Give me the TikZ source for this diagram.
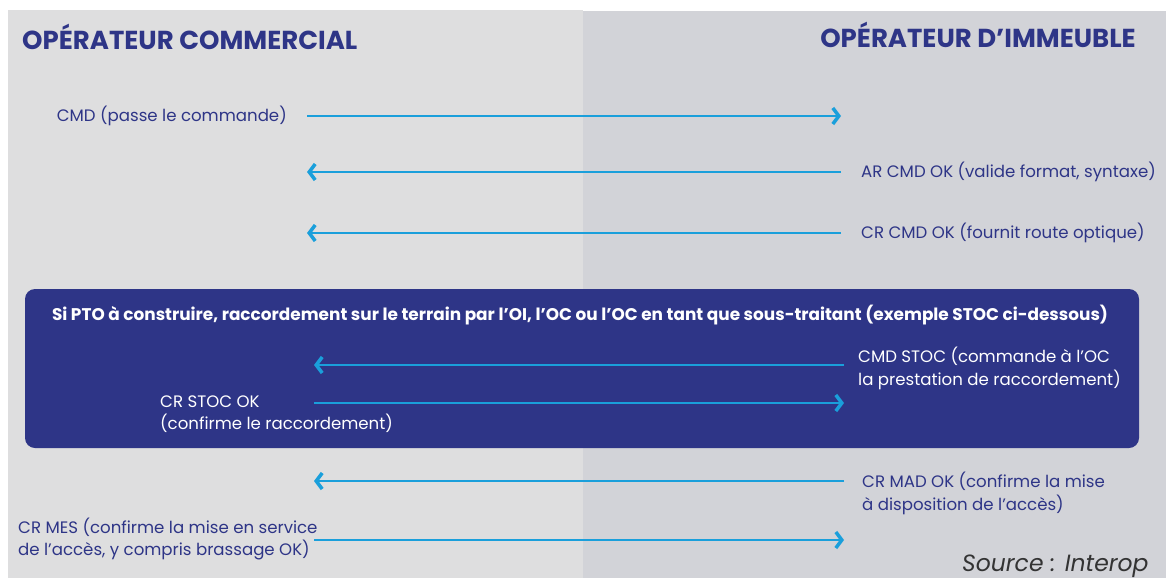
\documentclass[tikz,border=0pt]{standalone}
\usepackage{fontspec}
\setmainfont{Poppins}
\usetikzlibrary{positioning}
\usetikzlibrary{arrows.meta}

\definecolor{ocgrey}{HTML}{DEDEDF}
\definecolor{oigrey}{HTML}{D2D3D8}
\definecolor{navy}{HTML}{2E3587}
\definecolor{flowblue}{HTML}{1A9FDB}

\begin{document}
\begin{tikzpicture}[x=1pt, y=-1pt,
	flow/.style={draw=flowblue, line width=1.4pt, -{Straight Barb[length=6pt,width=16pt,line width=3.5pt]}},
	lbl/.style={text=navy, font=\fontsize{16.6}{22.5}\selectfont, inner sep=0pt, align=left},
	head/.style={text=navy, font=\bfseries\fontsize{26}{30}\selectfont, inner sep=0pt}]

	\useasboundingbox (0,0) rectangle (1166,578);
	% Panels %
	\fill [ocgrey] (8,10) rectangle (583,578);
	\fill [oigrey] (583,11) rectangle (1166,578);
	% Titles %
	\node [head, anchor=west] (ocTitle) at (22,37) {OPÉRATEUR COMMERCIAL};
	\node [head, anchor=east] (oiTitle) at (1136,35) {OPÉRATEUR D'IMMEUBLE};
	% End points %
	\foreach \n/\y in {1/116, 2/172, 3/233} {
		\coordinate (oc\n) at (307,\y);
		\coordinate (oi\n) at (841,\y);
	}
	\foreach \n/\y in {4/365, 5/403, 6/481, 7/540} {
		\coordinate (oc\n) at (314,\y);
		\coordinate (oi\n) at (844,\y);
	}
	% STOC box %
	\node [fill=navy, rounded corners=10pt, minimum width=1114pt, minimum height=159pt, inner sep=0pt] (stoc) at (582,368.5) {};
	\node [text=white, font=\bfseries\fontsize{16.9}{20}\selectfont, inner sep=0pt] (stocTitle) at (580,315) {Si PTO à construire, raccordement sur le terrain par l'OI, l'OC ou l'OC en tant que sous-traitant (exemple STOC ci-dessous)};
	% Flows %
	\draw [flow] (oc1) -- (oi1);
	\draw [flow] (oi2) -- (oc2);
	\draw [flow] (oi3) -- (oc3);
	\draw [flow] (oi4) -- (oc4);
	\draw [flow] (oc5) -- (oi5);
	\draw [flow] (oi6) -- (oc6);
	\draw [flow] (oc7) -- (oi7);
	% Labels %
	\node [lbl, left=20pt of oc1] (cmd) {CMD (passe le commande)};
	\node [lbl, right=20pt of oi2] (arCmd) {AR CMD OK (valide format, syntaxe)};
	\node [lbl, right=20pt of oi3] (crCmd) {CR CMD OK (fournit route optique)};
	\node [lbl, text=white, anchor=west] (cmdStoc) at (858,368.5) {CMD STOC (commande à l'OC\\la prestation de raccordement)};
	\node [lbl, text=white, anchor=west] (crStoc) at (160,414) {CR STOC OK\\(confirme le raccordement)};
	\node [lbl, anchor=west] (crMad) at (862,493.5) {CR MAD OK (confirme la mise\\à disposition de l'accès)};
	\node [lbl, anchor=west] (crMes) at (18,539) {CR MES (confirme la mise en service\\de l'accès, y compris brassage OK)};
	% Source %
	\node [text=black!80, font=\itshape\fontsize{23.5}{28}\selectfont, inner sep=0pt, anchor=base west] (src) at (962,571) {Source : Interop};
\end{tikzpicture}
\end{document}
